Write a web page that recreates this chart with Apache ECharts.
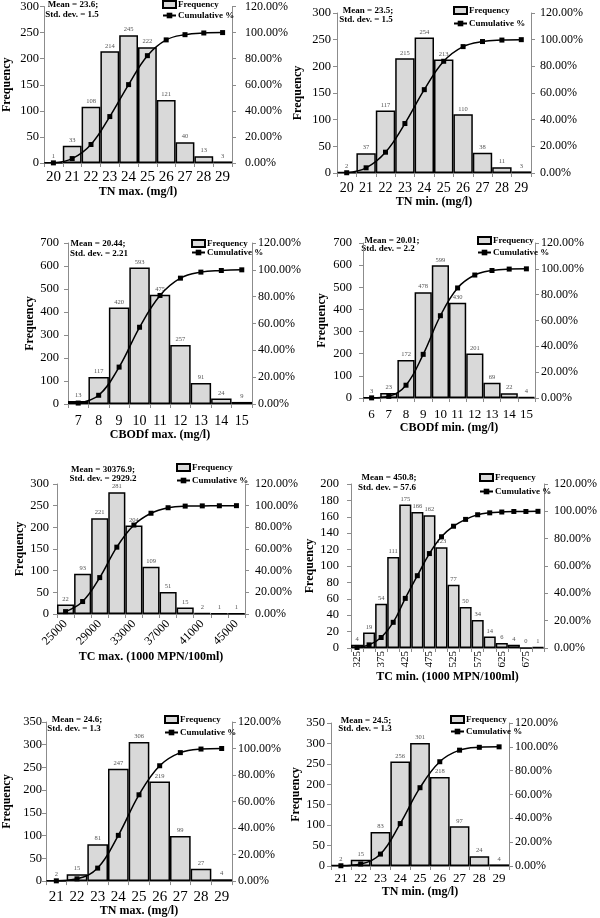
<!DOCTYPE html>
<html>
<head>
<meta charset="utf-8">
<script src="https://cdn.jsdelivr.net/npm/echarts@6/dist/echarts.min.js"></script>
<style>
html,body{margin:0;padding:0;background:#fff;}
#chart{width:600px;height:918px;}
</style>
</head>
<body>
<div id="chart"></div>
<script>
// ---------- DATA ----------
const tnMaxCats = ['20','21','22','23','24','25','26','27','28','29'];
const tnMaxFreq = [1,33,108,214,245,222,121,40,13,3];
const tnMaxCum  = [0.1,3.4,14.2,35.6,60.1,82.3,94.4,98.4,99.7,100];

const tnMinCats = ['20','21','22','23','24','25','26','27','28','29'];
const tnMinFreq = [2,37,117,215,254,213,110,38,11,3];
const tnMinCum  = [0.2,3.9,15.6,37.1,62.5,83.8,94.8,98.6,99.7,100];

const cbodMaxCats = ['7','8','9','10','11','12','13','14','15'];
const cbodMaxFreq = [13,117,420,593,475,257,91,24,9];
const cbodMaxCum  = [0.7,6.5,27.5,57.2,80.9,93.8,98.3,99.5,100];

const cbodMinCats = ['6','7','8','9','10','11','12','13','14','15'];
const cbodMinFreq = [3,23,172,478,599,430,201,69,22,4];
const cbodMinCum  = [0.1,1.3,9.9,33.8,63.7,85.2,95.2,98.7,99.8,100];

const tcMaxCats = ['25000','27000','29000','31000','33000','35000','37000','39000','41000','43000','45000'];
const tcMaxFreq = [22,93,221,281,204,109,51,15,2,1,1];
const tcMaxCum  = [2.2,11.5,33.6,61.7,82.1,93.0,98.1,99.6,99.8,99.9,100];

const tcMinCats = ['325','350','375','400','425','450','475','500','525','550','575','600','625','650','675','700'];
const tcMinFreq = [4,19,54,111,175,166,162,123,77,50,34,14,6,4,0,1];
const tcMinCum  = [0.4,2.3,7.7,18.8,36.3,52.9,69.1,81.4,89.1,94.1,97.5,98.9,99.5,99.9,99.9,100];

const tn2MaxCats = ['21','22','23','24','25','26','27','28','29'];
const tn2MaxFreq = [2,15,81,247,306,219,99,27,4];
const tn2MaxCum  = [0.2,1.7,9.8,34.5,65.1,87.0,96.9,99.6,100];

const tn2MinCats = ['21','22','23','24','25','26','27','28','29'];
const tn2MinFreq = [2,15,83,256,301,218,97,24,4];
const tn2MinCum  = [0.2,1.7,10.0,35.6,65.7,87.5,97.2,99.6,100];

const pctTicks = [0,20,40,60,80,100,120];

// ---------- LAYOUT ----------
const FONT = '"Liberation Serif","Times New Roman",serif';
const panels = [
  {cats:tnMaxCats,freq:tnMaxFreq,cum:tnMaxCum,xName:'TN max. (mg/l)',yMax:300,yInt:50,
   stats:['Mean = 23.6;','Std. dev. = 1.5'],sp:[[73,5],[72,15]],
   g:[44,5,188,158],xf:15,xm:7,xng:22,yng:31,ylm:5,yrm:13,lg:[162,0,2],labInt:0,rot:0},
  {cats:tnMinCats,freq:tnMinFreq,cum:tnMinCum,xName:'TN min. (mg/l)',yMax:300,yInt:50,
   stats:['Mean = 23.5;','Std. dev. = 1.5'],sp:[[368,11],[366,20]],
   g:[337,13,194,160],xf:14,xm:8,xng:22,yng:33,ylm:6,yrm:9,lg:[453,6,4],labInt:0,rot:0},
  {cats:cbodMaxCats,freq:cbodMaxFreq,cum:cbodMaxCum,xName:'CBODf max. (mg/l)',yMax:700,yInt:100,
   stats:['Mean = 20.44;','Std. dev. = 2.21'],sp:[[98,244],[99,254]],
   g:[68,243,184,161],xf:14,xm:10,xng:22,yng:27,ylm:9,yrm:6,lg:[191,239,0],labInt:0,rot:0},
  {cats:cbodMinCats,freq:cbodMinFreq,cum:cbodMinCum,xName:'CBODf min. (mg/l)',yMax:700,yInt:100,
   stats:['Mean = 20.01;','Std. dev. = 2.2'],sp:[[392,241],[388,249]],
   g:[363,243,172,155],xf:13,xm:10,xng:22,yng:35,ylm:11,yrm:6,lg:[477,236,3],labInt:0,rot:0},
  {cats:tcMaxCats,freq:tcMaxFreq,cum:tcMaxCum,xName:'TC max. (1000 MPN/100ml)',yMax:300,yInt:50,
   stats:['Mean = 30376.9;','Std. dev. = 2929.2'],sp:[[103,470],[103,479]],
   g:[57,484,188,130],xf:12,xm:8,xng:35,yng:26,ylm:8,yrm:10,lg:[176,463,4],labInt:1,rot:45},
  {cats:tcMinCats,freq:tcMinFreq,cum:tcMinCum,xName:'TC min. (1000 MPN/100ml)',yMax:200,yInt:20,
   stats:['Mean = 450.8;','Std. dev. = 57.6'],sp:[[389,478],[387,488]],
   g:[351,484,196,164],xf:11,xm:3,xng:19,yng:33,ylm:12,yrm:10,lg:[479,473,5],labInt:1,rot:90},
  {cats:tn2MaxCats,freq:tn2MaxFreq,cum:tn2MaxCum,xName:'TN max. (mg/l)',yMax:350,yInt:50,
   stats:['Mean = 24.6;','Std. dev. = 1.3'],sp:[[77,720],[74,729]],
   g:[44,722,188,161],xf:15,xm:8,xng:22,yng:33,ylm:4,yrm:6,lg:[164,715,4],labInt:0,rot:0},
  {cats:tn2MinCats,freq:tn2MinFreq,cum:tn2MinCum,xName:'TN min. (mg/l)',yMax:350,yInt:50,
   stats:['Mean = 24.5;','Std. dev. = 1.3'],sp:[[366,721],[365,729]],
   g:[331,723,178,143],xf:13,xm:6,xng:20,yng:25,ylm:6,yrm:6,lg:[450,715,3],labInt:0,rot:0}
];

const grid=[], xAxis=[], yAxis=[], series=[], legend=[], graphic=[];
const axisCol = '#8c8c8c';
panels.forEach((p,i)=>{
  grid.push({left:p.g[0],top:p.g[1],width:p.g[2],height:p.g[3],containLabel:false});
  xAxis.push({gridIndex:i,type:'category',data:p.cats,boundaryGap:true,
    axisLine:{lineStyle:{color:axisCol,width:1}},
    axisTick:{show:true,interval:0,length:4,lineStyle:{color:axisCol}},
    axisLabel:{interval:p.labInt,rotate:p.rot,margin:p.xm,fontSize:p.xf,color:'#000',fontFamily:FONT},
    name:p.xName,nameLocation:'middle',nameGap:p.xng,
    nameTextStyle:{fontWeight:'bold',fontSize:12,fontFamily:FONT,color:'#000'}});
  yAxis.push({gridIndex:i,type:'value',min:0,max:p.yMax,interval:p.yInt,position:'left',
    axisLine:{show:true,lineStyle:{color:axisCol}},
    axisTick:{show:true,length:4,lineStyle:{color:axisCol}},
    splitLine:{show:false},
    axisLabel:{margin:p.ylm,fontSize:12.5,color:'#000',fontFamily:FONT},
    name:'Frequency',nameLocation:'middle',nameRotate:90,nameGap:p.yng,
    nameTextStyle:{fontWeight:'bold',fontSize:12,fontFamily:FONT,color:'#000'}});
  yAxis.push({gridIndex:i,type:'value',min:pctTicks[0],max:pctTicks[pctTicks.length-1],interval:pctTicks[1]-pctTicks[0],position:'right',
    axisLine:{show:true,lineStyle:{color:axisCol}},
    axisTick:{show:true,length:4,lineStyle:{color:axisCol}},
    splitLine:{show:false},
    axisLabel:{margin:p.yrm,fontSize:12,color:'#000',fontFamily:FONT,formatter:v=>v.toFixed(2)+'%'}});
  series.push({type:'bar',name:'Frequency',xAxisIndex:i,yAxisIndex:2*i,data:p.freq,
    barCategoryGap:'0%',itemStyle:{color:'#d9d9d9',borderColor:'#000',borderWidth:1.5},
    label:{show:true,position:'top',distance:2,fontSize:6.5,color:'#555',fontFamily:FONT}});
  series.push({type:'line',name:'Cumulative %',xAxisIndex:i,yAxisIndex:2*i+1,data:p.cum,
    smooth:0.4,symbol:'rect',symbolSize:5,z:5,
    lineStyle:{color:'#000',width:1.5},itemStyle:{color:'#000'}});
  legend.push({left:p.lg[0],top:p.lg[1],orient:'vertical',itemWidth:13,itemHeight:7,itemGap:p.lg[2],
    selectedMode:false,padding:0,
    textStyle:{fontSize:9,fontWeight:'bold',fontFamily:FONT,color:'#000',padding:[0,0,0,-3]},
    data:[{name:'Frequency',icon:'rect'},{name:'Cumulative %'}]});
  p.stats.forEach((t,k)=>{
    graphic.push({type:'text',x:p.sp[k][0],y:p.sp[k][1],
      style:{text:t,fill:'#000',font:'bold 9px '+FONT,align:'center',verticalAlign:'middle',textAlign:'center',textVerticalAlign:'middle'}});
  });
});

const chart = echarts.init(document.getElementById('chart'),null,{renderer:'canvas'});
chart.setOption({animation:false,backgroundColor:'#fff',grid,xAxis,yAxis,series,legend,graphic});
</script>
</body>
</html>
